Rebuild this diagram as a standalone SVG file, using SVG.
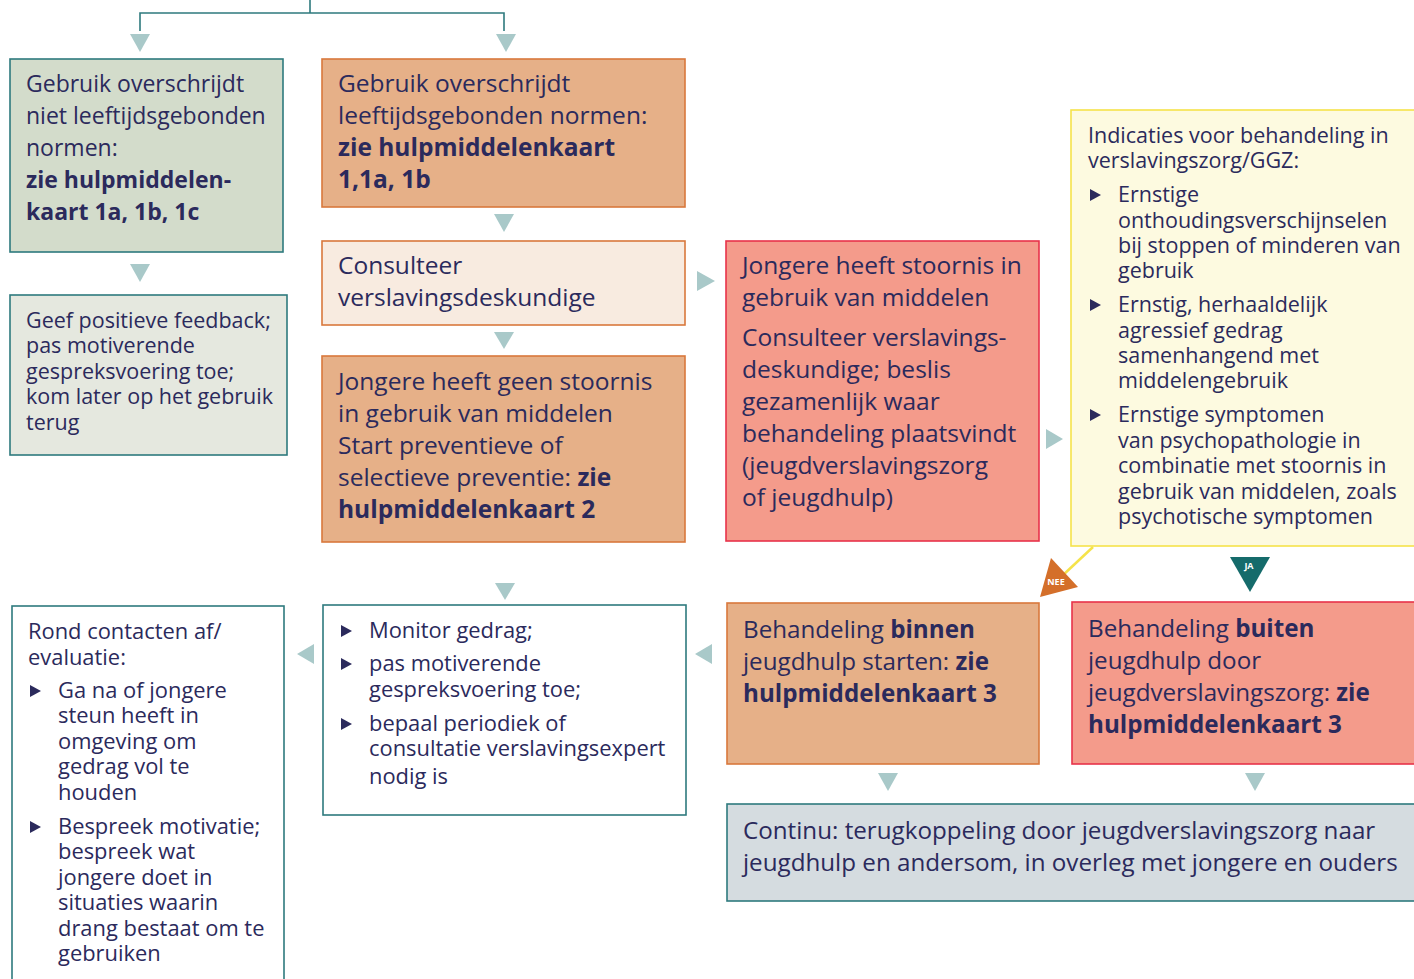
<svg xmlns="http://www.w3.org/2000/svg" width="1414" height="979" viewBox="0 0 1414 979">
<defs>
<style>
text{font-family:"Open Sans","Noto Sans","Liberation Sans",sans-serif;fill:#2b2a5c}
.t23{font-size:23px}
.t24{font-size:24.5px}
.t21{font-size:21.5px}
.t22{font-size:21.9px}
.tb{font-size:24.2px}
.b{font-weight:bold}
.conn{fill:none;stroke:#2e7a7e;stroke-width:1.6}
.arr{fill:#a9c9c9}
.bul{fill:#2b2a5c}
.teal{stroke:#2e7a7e;stroke-width:1.6}
.orn{stroke:#d9783c;stroke-width:1.6}
.red{stroke:#e8334a;stroke-width:1.6}
</style>
</defs>
<g id="connectors">
<path class="conn" d="M310 0V13M140 31V13H504V31"/>
<polygon class="arr" points="130,34 150,34 140,52"/>
<polygon class="arr" points="496,34 516,34 506,52"/>
<polygon class="arr" points="130,264 150,264 140,282"/>
<polygon class="arr" points="494,214 514,214 504,232"/>
<polygon class="arr" points="494,332 514,332 504,349"/>
<polygon class="arr" points="697,271 697,291 715,281"/>
<polygon class="arr" points="1046,429 1046,449 1063,439"/>
<polygon class="arr" points="495,583 515,583 505,600"/>
<polygon class="arr" points="712,644 712,664 695,654"/>
<polygon class="arr" points="314,644 314,664 297,654"/>
<polygon class="arr" points="878,773 898,773 888,791"/>
<polygon class="arr" points="1245,773 1265,773 1255,791"/>
<path d="M1093 547L1062 576" stroke="#f5e34a" stroke-width="2.5" fill="none"/>
<polygon points="1051,558 1078,587 1040,597" fill="#d46f2a"/>
<text x="1056" y="585" text-anchor="middle" style="font-size:9px;font-weight:bold;fill:#fff">NEE</text>
<polygon points="1230,557 1270,557 1250,592" fill="#156b6b"/>
<text x="1249" y="569" text-anchor="middle" style="font-size:9px;font-weight:bold;fill:#fff">JA</text>
</g>
<g id="n1">
<rect x="10" y="59" width="273" height="193" fill="#d3dccb" class="teal"/>
<text class="t23" x="26" y="92">Gebruik overschrijdt</text>
<text class="t23" x="26" y="124">niet leeftijdsgebonden</text>
<text class="t23" x="26" y="156">normen:</text>
<text class="t23 b" x="26" y="188">zie hulpmiddelen-</text>
<text class="t23 b" x="26" y="220">kaart 1a, 1b, 1c</text>
</g>
<g id="n2">
<rect x="10" y="295" width="277" height="160" fill="#e5e8df" class="teal"/>
<text class="t21" x="26" y="328">Geef positieve feedback;</text>
<text class="t21" x="26" y="353">pas motiverende</text>
<text class="t21" x="26" y="379">gespreksvoering toe;</text>
<text class="t21" x="26" y="404">kom later op het gebruik</text>
<text class="t21" x="26" y="430">terug</text>
</g>
<g id="n3">
<rect x="322" y="59" width="363" height="148" fill="#e6b088" class="orn"/>
<text class="t24" x="338" y="92">Gebruik overschrijdt</text>
<text class="t24" x="338" y="124">leeftijdsgebonden normen:</text>
<text class="t24 b" x="338" y="156">zie hulpmiddelenkaart</text>
<text class="t24 b" x="338" y="188">1,1a, 1b</text>
</g>
<g id="n4">
<rect x="322" y="241" width="363" height="84" fill="#f8ebe0" class="orn"/>
<text class="t24" x="338" y="274">Consulteer</text>
<text class="t24" x="338" y="306">verslavingsdeskundige</text>
</g>
<g id="n5">
<rect x="322" y="356" width="363" height="186" fill="#e6b088" class="orn"/>
<text class="t24" x="338" y="390">Jongere heeft geen stoornis</text>
<text class="t24" x="338" y="422">in gebruik van middelen</text>
<text class="t24" x="338" y="454">Start preventieve of</text>
<text class="t24" x="338" y="486">selectieve preventie: <tspan class="b">zie</tspan></text>
<text class="t24 b" x="338" y="518">hulpmiddelenkaart 2</text>
</g>
<g id="n6">
<rect x="726" y="241" width="313" height="300" fill="#f49b8b" class="red"/>
<text class="t24" x="742" y="274">Jongere heeft stoornis in</text>
<text class="t24" x="742" y="306">gebruik van middelen</text>
<text class="t24" x="742" y="346">Consulteer verslavings-</text>
<text class="t24" x="742" y="378">deskundige; beslis</text>
<text class="t24" x="742" y="410">gezamenlijk waar</text>
<text class="t24" x="742" y="442">behandeling plaatsvindt</text>
<text class="t24" x="742" y="474">(jeugdverslavingszorg</text>
<text class="t24" x="742" y="506">of jeugdhulp)</text>
</g>
<g id="n7">
<rect x="1071" y="110" width="350" height="436" fill="#fdfae0" stroke="#f5e34a" stroke-width="1.6"/>
<text class="t21" x="1088" y="143">Indicaties voor behandeling in</text>
<text class="t21" x="1088" y="168">verslavingszorg/GGZ:</text>
<polygon class="bul" points="1090,189 1090,201 1101,195"/>
<text class="t21" x="1118" y="202">Ernstige</text>
<text class="t21" x="1118" y="228">onthoudingsverschijnselen</text>
<text class="t21" x="1118" y="253">bij stoppen of minderen van</text>
<text class="t21" x="1118" y="278">gebruik</text>
<polygon class="bul" points="1090,299 1090,311 1101,305"/>
<text class="t21" x="1118" y="312">Ernstig, herhaaldelijk</text>
<text class="t21" x="1118" y="338">agressief gedrag</text>
<text class="t21" x="1118" y="363">samenhangend met</text>
<text class="t21" x="1118" y="388">middelengebruik</text>
<polygon class="bul" points="1090,409 1090,421 1101,415"/>
<text class="t21" x="1118" y="422">Ernstige symptomen</text>
<text class="t21" x="1118" y="448">van psychopathologie in</text>
<text class="t21" x="1118" y="473">combinatie met stoornis in</text>
<text class="t21" x="1118" y="499">gebruik van middelen, zoals</text>
<text class="t21" x="1118" y="524">psychotische symptomen</text>
</g>
<g id="n8">
<rect x="727" y="603" width="312" height="161" fill="#e6b088" class="orn"/>
<text class="tb" x="743" y="638">Behandeling <tspan class="b">binnen</tspan></text>
<text class="tb" x="743" y="670">jeugdhulp starten: <tspan class="b">zie</tspan></text>
<text class="tb b" x="743" y="702">hulpmiddelenkaart 3</text>
</g>
<g id="n9">
<rect x="1072" y="602" width="350" height="162" fill="#f49b8b" class="red"/>
<text class="tb" x="1088" y="637">Behandeling <tspan class="b">buiten</tspan></text>
<text class="tb" x="1088" y="669">jeugdhulp door</text>
<text class="tb" x="1088" y="701">jeugdverslavingszorg: <tspan class="b">zie</tspan></text>
<text class="tb b" x="1088" y="733">hulpmiddelenkaart 3</text>
</g>
<g id="n10">
<rect x="727" y="804" width="700" height="97" fill="#d5dce0" class="teal"/>
<text class="tb" x="743" y="839">Continu: terugkoppeling door jeugdverslavingszorg naar</text>
<text class="tb" x="743" y="871">jeugdhulp en andersom, in overleg met jongere en ouders</text>
</g>
<g id="n11">
<rect x="323" y="605" width="363" height="210" fill="#fff" class="teal"/>
<polygon class="bul" points="341,625 341,637 352,631"/>
<text class="t22" x="369" y="638">Monitor gedrag;</text>
<polygon class="bul" points="341,658 341,670 352,664"/>
<text class="t22" x="369" y="671">pas motiverende</text>
<text class="t22" x="369" y="697">gespreksvoering toe;</text>
<polygon class="bul" points="341,718 341,730 352,724"/>
<text class="t22" x="369" y="731">bepaal periodiek of</text>
<text class="t22" x="369" y="756">consultatie verslavingsexpert</text>
<text class="t22" x="369" y="784">nodig is</text>
</g>
<g id="n12">
<rect x="12" y="606" width="272" height="390" fill="#fff" class="teal"/>
<text class="t22" x="28" y="639">Rond contacten af/</text>
<text class="t22" x="28" y="665">evaluatie:</text>
<polygon class="bul" points="30,685 30,697 41,691"/>
<text class="t22" x="58" y="698">Ga na of jongere</text>
<text class="t22" x="58" y="723">steun heeft in</text>
<text class="t22" x="58" y="749">omgeving om</text>
<text class="t22" x="58" y="774">gedrag vol te</text>
<text class="t22" x="58" y="800">houden</text>
<polygon class="bul" points="30,821 30,833 41,827"/>
<text class="t22" x="58" y="834">Bespreek motivatie;</text>
<text class="t22" x="58" y="859">bespreek wat</text>
<text class="t22" x="58" y="885">jongere doet in</text>
<text class="t22" x="58" y="910">situaties waarin</text>
<text class="t22" x="58" y="936">drang bestaat om te</text>
<text class="t22" x="58" y="961">gebruiken</text>
</g>
</svg>
